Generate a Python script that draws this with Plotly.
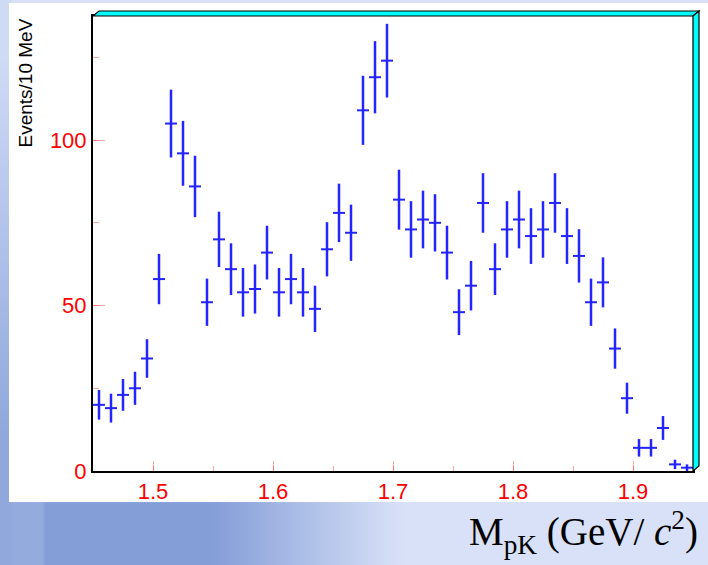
import base64
import struct
import zlib

import numpy as np
import plotly.graph_objects as go

# p K invariant mass spectrum, 10 MeV bins
mass_bins = [round(1.455 + 0.01 * i, 3) for i in range(50)]
events = [20, 19, 23, 25, 34, 58, 105, 96, 86, 51,
          70, 61, 54, 55, 66, 54, 58, 54, 49, 67,
          78, 72, 109, 119, 124, 82, 73, 76, 75, 66,
          48, 56, 81, 61, 73, 76, 71, 73, 81, 71,
          65, 51, 57, 37, 22, 7, 7, 13, 2, 1]
x_tick_vals = [1.5, 1.6, 1.7, 1.8, 1.9]
y_tick_vals = [0, 50, 100]

W, H = 708, 565
# plot area in pixels
PL, PR, PT, PB = 93, 693, 16, 471


def px(xp):
    return (xp - PL) / (PR - PL)


def py(yp):
    return (PB - yp) / (PB - PT)


def png_uri(rgb):
    h, w, _ = rgb.shape
    raw = b"".join(b"\x00" + rgb[r].tobytes() for r in range(h))

    def chunk(tag, data):
        c = struct.pack(">I", len(data)) + tag + data
        return c + struct.pack(">I", zlib.crc32(tag + data) & 0xFFFFFFFF)

    png = (b"\x89PNG\r\n\x1a\n"
           + chunk(b"IHDR", struct.pack(">IIBBBBB", w, h, 8, 2, 0, 0, 0))
           + chunk(b"IDAT", zlib.compress(raw, 9))
           + chunk(b"IEND", b""))
    return "data:image/png;base64," + base64.b64encode(png).decode()


# slide backdrop: pale lavender with a deeper blue wash at lower left
s = 4
gx, gy = np.meshgrid(np.arange(0, W, s) + s / 2, np.arange(0, H, s) + s / 2)
lav = np.array([216, 225, 248], float)
blu = np.array([132, 158, 216], float)
bottom = np.clip((400 - gx) / 190, 0, 1) * np.clip((gy - 495) / 10, 0, 1)
bottom = bottom * np.where(gx < 45, 0.8, 1.0)
left = (np.clip((gy - 60) / 380, 0, 1) * 0.75 + 0.1) * (gx < 12)
mix = np.maximum(bottom, left)[..., None]
bg = (lav * (1 - mix) + blu * mix).astype(np.uint8)

blue = "#2424ff"
tick_red = "rgba(255,60,60,0.45)"
label_font = dict(family="Arial, Liberation Sans, Helvetica, sans-serif",
                  size=22, color="#ff0000")

fig = go.Figure(go.Scatter(
    x=mass_bins,
    y=events,
    mode="markers",
    marker=dict(size=1, color=blue),
    error_x=dict(type="constant", value=0.005, width=0, thickness=2, color=blue),
    error_y=dict(type="data", array=np.sqrt(events), width=0, thickness=2.5, color=blue),
    hoverinfo="x+y",
))

shapes = [
    # white panel behind the frame
    dict(type="rect", xref="paper", yref="paper", layer="below",
         x0=px(9), x1=px(709), y0=py(502), y1=py(3),
         fillcolor="white", line=dict(width=0)),
    # 3D frame: top face
    dict(type="path", xref="paper", yref="paper", layer="above",
         path=f"M {px(PL)},{py(PT)} L {px(PL + 6)},{py(PT - 5)} "
              f"L {px(PR + 6)},{py(PT - 5)} L {px(PR)},{py(PT)} Z",
         fillcolor="#00ffff", line=dict(color="black", width=1.2)),
    # 3D frame: right face
    dict(type="path", xref="paper", yref="paper", layer="above",
         path=f"M {px(PR)},{py(PT)} L {px(PR + 6)},{py(PT - 5)} "
              f"L {px(PR + 6)},{py(PB - 5)} L {px(PR)},{py(PB)} Z",
         fillcolor="#00ffff", line=dict(color="black", width=1.2)),
]

annotations = [
    dict(text="Events/10 MeV", textangle=-90, showarrow=False,
         xref="paper", yref="paper", x=px(25), y=py(17),
         xanchor="center", yanchor="top",
         font=dict(family="Arial, Liberation Sans, Helvetica, sans-serif",
                   size=19, color="black")),
    dict(text="M<sub>pK</sub> (GeV/ <i>c</i><sup>2</sup>)", showarrow=False,
         xref="paper", yref="paper", x=px(700), y=py(532),
         xanchor="right", yanchor="middle",
         font=dict(family="Liberation Serif, Times New Roman, serif",
                   size=39, color="black")),
]

fig.update_layout(
    width=W, height=H,
    margin=dict(l=PL, r=W - PR, t=PT, b=H - PB, pad=0),
    paper_bgcolor="#dae2f8",
    plot_bgcolor="white",
    showlegend=False,
    images=[dict(source=png_uri(bg), xref="paper", yref="paper",
                 x=px(0), y=py(0), sizex=px(W) - px(0), sizey=py(0) - py(H),
                 xanchor="left", yanchor="top", sizing="stretch", layer="below")],
    shapes=shapes,
    annotations=annotations,
    xaxis=dict(
        range=[1.45, 1.95], tickvals=x_tick_vals,
        ticktext=[f"{v:.1f}" for v in x_tick_vals],
        ticks="inside", ticklen=10, tickwidth=1, tickcolor=tick_red,
        minor=dict(ticks="inside", ticklen=5, tickwidth=1, tickcolor=tick_red,
                   dtick=0.05, tick0=1.45, showgrid=False),
        showline=True, linecolor="black", linewidth=2, mirror=True,
        showgrid=False, zeroline=False, tickfont=label_font,
    ),
    yaxis=dict(
        range=[0, 137.5], tickvals=y_tick_vals,
        ticks="inside", ticklen=12, tickwidth=1, tickcolor=tick_red,
        minor=dict(ticks="inside", ticklen=6, tickwidth=1, tickcolor=tick_red,
                   dtick=25, tick0=0, showgrid=False),
        showline=True, linecolor="black", linewidth=2, mirror=True,
        showgrid=False, zeroline=False, tickfont=label_font,
    ),
)

fig.write_html("out.html")
